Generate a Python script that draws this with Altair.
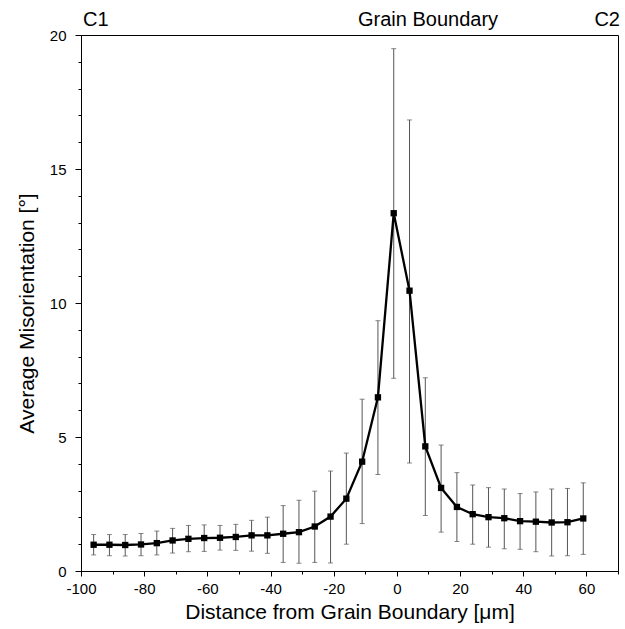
import altair as alt
import pandas as pd

distance = [-96, -91, -86, -81, -76, -71, -66, -61, -56, -51, -46, -41, -36, -31, -26, -21,
            -16, -11, -6, -1, 4, 9, 14, 19, 24, 29, 34, 39, 44, 49, 54, 59]
mean_mis = [0.98, 0.98, 0.97, 0.99, 1.04, 1.14, 1.20, 1.23, 1.24, 1.27, 1.33, 1.33, 1.39, 1.45, 1.66, 2.03,
            2.70, 4.08, 6.48, 13.35, 10.46, 4.65, 3.10, 2.39, 2.12, 2.01, 1.97, 1.86, 1.84, 1.81, 1.82, 1.96]
upper = [1.36, 1.36, 1.36, 1.40, 1.49, 1.59, 1.70, 1.72, 1.70, 1.74, 1.89, 2.01, 2.44, 2.64, 2.98, 3.73,
         4.40, 6.41, 9.34, 19.49, 16.83, 7.21, 4.70, 3.67, 3.21, 3.11, 3.06, 2.89, 2.95, 3.06, 3.08, 3.29]
lower = [0.60, 0.57, 0.56, 0.57, 0.60, 0.67, 0.72, 0.73, 0.78, 0.77, 0.74, 0.66, 0.32, 0.29, 0.32, 0.30,
         1.00, 1.77, 3.60, 7.19, 4.03, 2.07, 1.45, 1.10, 1.00, 0.89, 0.83, 0.81, 0.72, 0.56, 0.57, 0.62]

x_major = [-100, -80, -60, -40, -20, 0, 20, 40, 60]
x_minor = [-90, -70, -50, -30, -10, 10, 30, 50, 70]
y_major = [0, 5, 10, 15, 20]
y_minor = [1, 2, 3, 4, 6, 7, 8, 9, 11, 12, 13, 14, 16, 17, 18, 19]

top_labels = ["C1", "Grain Boundary", "C2"]

df = pd.DataFrame({"x": distance, "y": mean_mis, "hi": upper, "lo": lower})

FONT = "Liberation Sans"

xscale = alt.Scale(domain=[-100, 70], nice=False, zero=False)
yscale = alt.Scale(domain=[0, 20], nice=False, zero=False)

common = dict(
    grid=False,
    labelFont=FONT,
    titleFont=FONT,
    labelColor="black",
    titleColor="black",
    domainColor="black",
    tickColor="black",
    labelFlush=False,
    labelOverlap=False,
    titleFontWeight="normal",
)

xaxis = alt.Axis(
    orient="bottom",
    values=x_major,
    title="Distance from Grain Boundary [\u03bcm]",
    labelExpr="'' + datum.value",
    tickSize=5,
    labelFontSize=15,
    titleFontSize=21,
    labelPadding=5,
    titlePadding=5,
    **common,
)
yaxis = alt.Axis(
    orient="left",
    values=y_major,
    title="Average Misorientation [\u00b0]",
    labelExpr="'' + datum.value",
    tickSize=6,
    labelFontSize=15,
    titleFontSize=21,
    labelPadding=9,
    titlePadding=12,
    titleY=278,
    **common,
)
xminor = alt.Axis(orient="bottom", values=x_minor, labels=False, tickSize=3, title=None,
                  domain=False, grid=False, tickColor="black")
yminor = alt.Axis(orient="left", values=y_minor, labels=False, tickSize=3, title=None,
                  domain=False, grid=False, tickColor="black")

base = alt.Chart(df)

bars = base.mark_rule(color="#555555", strokeWidth=1).encode(
    x=alt.X("x:Q", scale=xscale, axis=xaxis),
    y=alt.Y("lo:Q", scale=yscale, axis=yaxis),
    y2="hi:Q",
)
minor = base.mark_point(opacity=0).encode(
    x=alt.X("x:Q", scale=xscale, axis=xminor),
    y=alt.Y("y:Q", scale=yscale, axis=yminor),
)
cap_hi = base.mark_tick(orient="horizontal", size=5, thickness=1, color="#555555").encode(
    x=alt.X("x:Q", axis=None), y=alt.Y("hi:Q", axis=None)
)
cap_lo = base.mark_tick(orient="horizontal", size=5, thickness=1, color="#555555").encode(
    x=alt.X("x:Q", axis=None), y=alt.Y("lo:Q", axis=None)
)
line = base.mark_line(color="black", strokeWidth=2.3).encode(
    x=alt.X("x:Q", axis=None), y=alt.Y("y:Q", axis=None)
)
pts = base.mark_square(color="black", size=40, opacity=1).encode(
    x=alt.X("x:Q", axis=None), y=alt.Y("y:Q", axis=None)
)

def top_text(t, align, xpos):
    return alt.Chart(pd.DataFrame({"t": [t]})).mark_text(
        font=FONT, fontSize=20, align=align, baseline="alphabetic", color="black"
    ).encode(text="t:N", x=alt.value(xpos), y=alt.value(-9))

c1 = top_text(top_labels[0], "left", 2)
gb = top_text(top_labels[1], "center", 347)
c2 = top_text(top_labels[2], "right", 539)

chart = alt.layer(bars, minor, cap_hi, cap_lo, line, pts, c1, gb, c2).resolve_axis(
    x="independent", y="independent"
).properties(
    width=537,
    height=536,
    autosize=alt.AutoSizeParams(type="none"),
    padding={"left": 81, "top": 35, "right": 7, "bottom": 58},
    background="white",
).configure_view(stroke="black", strokeWidth=1)

chart.save("out.html", embed_options={"renderer": "svg", "actions": False})
